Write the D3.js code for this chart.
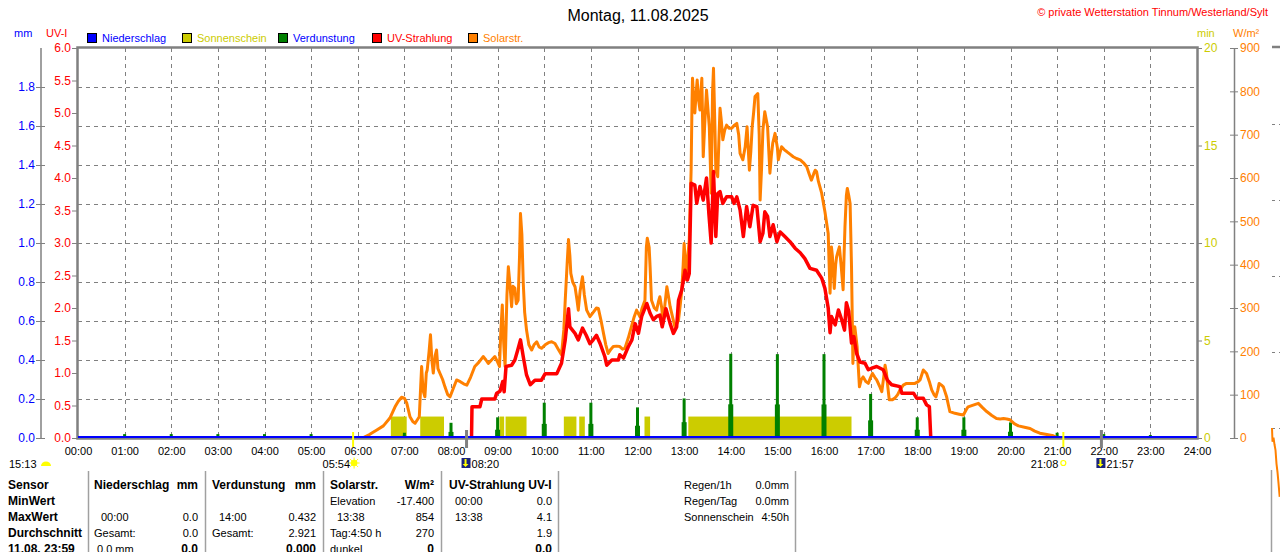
<!DOCTYPE html>
<html><head><meta charset="utf-8">
<script src="https://cdn.jsdelivr.net/npm/d3@7/dist/d3.min.js"></script>
<style>
html,body{margin:0;padding:0;background:#fff;}
svg{display:block;font-family:"Liberation Sans",Arial,sans-serif;}
</style></head><body>
<svg id="c" width="1280" height="552"></svg>
<script>
// ---------- DATA ----------
const hours = d3.range(0, 25);
const mmTicks = [0,0.2,0.4,0.6,0.8,1.0,1.2,1.4,1.6,1.8];
const uvTicks = [0,0.5,1,1.5,2,2.5,3,3.5,4,4.5,5,5.5,6];
const sunTicks = [0,5,10,15,20];
const wTicks = [0,100,200,300,400,500,600,700,800,900];

const solarTime = [6.10,6.25,6.40,6.55,6.69,6.80,6.87,6.94,7.00,7.05,7.12,7.18,7.23,7.32,7.35,7.37,7.40,7.44,7.47,7.49,7.53,7.56,7.59,7.62,7.66,7.69,7.72,7.76,7.82,7.87,7.93,7.98,8.05,8.12,8.20,8.27,8.34,8.42,8.51,8.60,8.69,8.75,8.80,8.87,8.94,9.00,9.04,9.07,9.10,9.13,9.16,9.20,9.23,9.26,9.30,9.33,9.37,9.40,9.44,9.47,9.49,9.52,9.55,9.58,9.62,9.67,9.73,9.78,9.84,9.89,9.94,10.02,10.09,10.16,10.23,10.30,10.37,10.42,10.45,10.49,10.52,10.55,10.57,10.61,10.66,10.70,10.73,10.77,10.82,10.86,10.91,10.98,11.05,11.12,11.16,11.22,11.27,11.32,11.37,11.43,11.48,11.55,11.62,11.68,11.73,11.80,11.87,11.93,11.98,12.05,12.10,12.16,12.19,12.21,12.25,12.27,12.30,12.36,12.41,12.45,12.48,12.52,12.55,12.59,12.63,12.66,12.70,12.75,12.80,12.85,12.88,12.92,12.95,12.98,13.00,13.03,13.05,13.08,13.11,13.15,13.17,13.18,13.20,13.23,13.26,13.28,13.31,13.34,13.36,13.38,13.41,13.44,13.48,13.51,13.54,13.58,13.61,13.63,13.66,13.68,13.72,13.75,13.77,13.80,13.83,13.87,13.91,13.96,14.02,14.08,14.13,14.17,14.20,14.26,14.31,14.35,14.40,14.43,14.46,14.49,14.52,14.58,14.61,14.63,14.66,14.69,14.73,14.79,14.84,14.87,14.90,14.95,15.00,15.02,15.06,15.09,15.15,15.20,15.27,15.34,15.41,15.49,15.56,15.63,15.68,15.73,15.78,15.81,15.84,15.88,15.95,16.02,16.09,16.11,16.13,16.16,16.18,16.22,16.25,16.27,16.30,16.33,16.37,16.41,16.43,16.45,16.48,16.50,16.53,16.56,16.59,16.62,16.64,16.66,16.71,16.76,16.80,16.84,16.90,16.95,17.00,17.04,17.09,17.13,17.19,17.24,17.28,17.31,17.34,17.36,17.40,17.46,17.52,17.58,17.63,17.70,17.77,17.86,17.95,18.02,18.06,18.13,18.20,18.26,18.31,18.36,18.40,18.44,18.47,18.52,18.56,18.63,18.67,18.70,18.81,18.90,18.99,19.05,19.09,19.20,19.31,19.40,19.49,19.60,19.70,19.78,19.85,19.92,19.99,20.08,20.17,20.30,20.42,20.52,20.63,20.78,20.92,21.02];
const solarWm2 = [0,8,18,28,46,72,85,94,92,81,49,38,34,49,120,165,110,95,150,157,200,238,180,150,190,203,160,150,135,118,100,95,115,134,130,125,122,140,165,175,188,180,172,180,188,175,165,250,307,220,165,330,395,360,303,350,346,310,318,420,518,470,357,290,249,215,203,215,222,210,207,215,220,222,218,205,192,250,318,400,458,420,380,360,349,320,295,340,372,330,295,280,290,300,299,270,242,215,195,205,211,212,211,205,207,230,257,280,295,280,300,318,440,461,440,395,318,300,295,315,326,300,265,310,349,330,303,280,257,265,272,310,342,400,449,400,365,420,457,618,780,830,790,750,800,826,780,757,800,830,649,720,803,760,718,565,800,853,720,618,603,700,761,730,688,710,722,715,715,722,726,700,657,642,672,718,618,660,718,750,788,795,700,549,620,711,753,718,611,650,680,703,670,642,660,672,665,661,655,649,645,642,635,626,610,595,610,618,615,592,565,522,472,400,334,441,420,345,400,418,430,441,395,342,420,488,560,576,560,541,395,172,230,257,211,118,135,141,130,126,140,149,140,134,120,107,140,168,150,126,88,88,92,100,111,122,126,126,126,130,134,157,149,130,111,100,95,110,126,122,118,95,75,61,57,55,53,65,72,76,80,70,61,52,45,44,45,44,42,33,28,25,22,16,11,8,5,0];

const uvTime = [8.44,8.45,8.55,8.62,8.66,8.94,8.98,9.05,9.11,9.14,9.18,9.30,9.37,9.43,9.49,9.55,9.62,9.70,9.80,9.94,10.02,10.27,10.37,10.45,10.52,10.55,10.66,10.73,10.82,10.90,10.98,11.05,11.12,11.20,11.30,11.34,11.45,11.59,11.62,11.70,11.80,11.88,11.95,12.02,12.09,12.20,12.27,12.34,12.41,12.48,12.53,12.61,12.70,12.77,12.84,12.88,12.95,13.02,13.07,13.11,13.15,13.23,13.27,13.34,13.41,13.48,13.53,13.58,13.63,13.68,13.72,13.77,13.83,13.91,14.02,14.07,14.13,14.20,14.27,14.34,14.41,14.48,14.56,14.63,14.69,14.73,14.79,14.84,14.91,14.99,15.06,15.16,15.27,15.38,15.49,15.59,15.70,15.84,15.95,16.02,16.09,16.13,16.16,16.24,16.31,16.38,16.44,16.48,16.53,16.59,16.64,16.70,16.77,16.88,16.95,17.04,17.13,17.27,17.36,17.45,17.63,17.67,17.92,17.99,18.13,18.20,18.26,18.29];
const uvIndex = [0,0.48,0.48,0.48,0.6,0.6,0.69,0.72,0.87,0.71,1.10,1.12,1.2,1.35,1.51,1.25,0.97,0.82,0.89,0.89,0.99,0.99,1.15,1.51,1.99,1.71,1.61,1.51,1.69,1.58,1.45,1.51,1.58,1.45,1.25,1.12,1.2,1.2,1.28,1.23,1.40,1.51,1.76,1.61,1.87,2.07,1.92,1.82,1.87,1.89,1.71,1.99,1.76,1.61,1.71,2.12,2.28,2.58,2.43,2.53,3.92,3.89,3.61,3.87,3.66,4.0,3.46,3.0,4.10,3.10,3.76,3.79,3.61,3.71,3.71,3.61,3.71,3.51,3.10,3.56,3.25,3.58,3.56,3.02,3.15,3.48,3.41,3.10,3.28,3.02,3.17,3.10,3.02,2.92,2.85,2.76,2.61,2.58,2.46,2.30,2.0,1.62,1.87,1.74,1.97,1.82,1.66,2.08,1.95,1.46,1.56,1.30,1.17,1.15,1.05,1.08,1.10,1.05,0.89,0.82,0.79,0.69,0.69,0.61,0.61,0.51,0.48,0];

const sunStart = [6.71,7.34,9.04,9.17,10.42,10.75,12.15,13.09];
const sunEnd   = [7.05,7.85,9.14,9.62,10.69,10.87,12.27,16.59];
const sunMin   = [1.1,1.1,1.1,1.1,1.1,1.1,1.1,1.1];

const evapHour = [1,2,3,4,5,7,8,9,10,11,12,13,14,15,16,17,18,19,20,21,22,23];
const evapMm   = [0.02,0.02,0.02,0.02,0.02,0.027,0.078,0.106,0.181,0.181,0.157,0.203,0.432,0.43,0.43,0.226,0.106,0.106,0.08,0.027,0.02,0.015];

const legendNames  = ["Niederschlag","Sonnenschein","Verdunstung","UV-Strahlung","Solarstr."];
const legendColors = ["#0000FF","#CCCC00","#008000","#FF0000","#FF8000"];
const legendText   = ["#0000FF","#CCCC00","#0000FF","#FF0000","#FF8000"];

const astroTime  = [5.9, 21.1333, 8.3333, 21.95];
const astroLabel = ["05:54","21:08","08:20","21:57"];
const astroType  = ["sunrise","sunset","moonrise","moonset"];

const nextPanelT = [0,0.5,1.5,2.5,3.5,4.5,5.5,6.5,7.7];
const nextPanelW = [900,800,830,780,740,640,580,500,400];

// ---------- SETUP ----------
const svg = d3.select("#c");
const L = 78, R = 1197, T = 48, B = 438;
const x = d3.scaleLinear().domain([0,24]).range([L,R]);
const yUV = d3.scaleLinear().domain([0,6]).range([B,T]);
const yMM = d3.scaleLinear().domain([0,2]).range([B,T]);
const ySun = d3.scaleLinear().domain([0,20]).range([B,T]);
const yW = d3.scaleLinear().domain([0,900]).range([B,T]);
const GRAY = "#808080";
const FS = "11px";

svg.append("rect").attr("width",1280).attr("height",552).attr("fill","#fff");

// Title
svg.append("text").attr("x",638).attr("y",21).attr("text-anchor","middle")
  .style("font-size","16px").attr("fill","#000").text("Montag, 11.08.2025");
svg.append("text").attr("x",1268).attr("y",16).attr("text-anchor","end")
  .style("font-size",FS).attr("fill","#FF0000").text("© private Wetterstation Tinnum/Westerland/Sylt");

// axis unit labels
svg.append("text").attr("x",14).attr("y",37).style("font-size",FS).attr("fill","#0000FF").text("mm");
svg.append("text").attr("x",46).attr("y",37).style("font-size",FS).attr("fill","#FF0000").text("UV-I");
svg.append("text").attr("x",1197).attr("y",37).style("font-size",FS).attr("fill","#CCCC00").text("min");
svg.append("text").attr("x",1233).attr("y",37).style("font-size",FS).attr("fill","#FF8000").text("W/m²");

// Legend
const lg = svg.append("g");
const legX = [87,182,278,372,468];
legendNames.forEach((n,i)=>{
  lg.append("rect").attr("x",legX[i]+0.5).attr("y",33.5).attr("width",9).attr("height",9)
    .attr("fill",legendColors[i]).attr("stroke","#000").attr("stroke-width",1);
  lg.append("text").attr("x",legX[i]+15).attr("y",42).style("font-size",FS).attr("fill",legendText[i]).text(n);
});

// Grid
const grid = svg.append("g").attr("stroke",GRAY).attr("stroke-width",1).attr("stroke-dasharray","4,4");
hours.filter(h=>h>0&&h<24).forEach(h=>{
  grid.append("line").attr("x1",Math.round(x(h))+0.5).attr("x2",Math.round(x(h))+0.5).attr("y1",T).attr("y2",B);
});
mmTicks.filter(v=>v>0).forEach(v=>{
  grid.append("line").attr("x1",L).attr("x2",R).attr("y1",Math.round(yMM(v))+0.5).attr("y2",Math.round(yMM(v))+0.5);
});

// Sunshine bars
const sunG = svg.append("g").attr("fill","#CCCC00");
sunStart.forEach((s,i)=>{
  sunG.append("rect").attr("x",x(s)).attr("width",x(sunEnd[i])-x(s))
    .attr("y",ySun(sunMin[i])).attr("height",ySun(0)-ySun(sunMin[i]));
});

// Evaporation spikes
const evG = svg.append("g").attr("fill","#008000");
evapHour.forEach((h,i)=>{
  const v = evapMm[i], cx = x(h);
  evG.append("rect").attr("x",cx-1.5).attr("width",3).attr("y",yMM(v)).attr("height",yMM(0)-yMM(v));
  evG.append("rect").attr("x",cx-2.5).attr("width",5).attr("y",yMM(v*0.4)).attr("height",yMM(0)-yMM(v*0.4));
});

// Solar line
const solarData = solarTime.map((t,i)=>[t,solarWm2[i]]);
svg.append("path").datum(solarData)
  .attr("d",d3.line().x(d=>x(d[0])).y(d=>yW(d[1])))
  .attr("fill","none").attr("stroke","#FF8000").attr("stroke-width",3).attr("stroke-linejoin","round");

// UV line
const uvData = uvTime.map((t,i)=>[t,uvIndex[i]]);
svg.append("path").datum(uvData)
  .attr("d",d3.line().x(d=>x(d[0])).y(d=>yUV(d[1])))
  .attr("fill","none").attr("stroke","#FF0000").attr("stroke-width",3.5).attr("stroke-linejoin","round");

// Frame
svg.append("rect").attr("x",L-0.5).attr("y",T-0.5).attr("width",R-L+1).attr("height",B-T+1)
  .attr("fill","none").attr("stroke",GRAY).attr("stroke-width",2.5);
// blue precipitation baseline
svg.append("line").attr("x1",L).attr("x2",R).attr("y1",B-1).attr("y2",B-1).attr("stroke","#0000FF").attr("stroke-width",2);

// Axes
function styleAxis(g,color,size){
  g.selectAll("path.domain").remove();
  g.selectAll("line").attr("stroke",GRAY);
  g.selectAll("text").attr("fill",color).style("font-size",size||"12px").attr("font-family","Liberation Sans, Arial, sans-serif");
}
// mm axis
svg.append("line").attr("x1",41).attr("x2",41).attr("y1",T).attr("y2",B).attr("stroke",GRAY).attr("stroke-width",1.5);
const gmm = svg.append("g").attr("transform","translate(45,0)")
  .call(d3.axisLeft(yMM).tickValues(mmTicks).tickSize(9).tickPadding(1).tickFormat(d3.format(".1f")));
styleAxis(gmm,"#0000FF");
// UV axis
const guv = svg.append("g").attr("transform","translate(77,0)")
  .call(d3.axisLeft(yUV).tickValues(uvTicks).tickSize(5).tickPadding(1).tickFormat(d3.format(".1f")));
styleAxis(guv,"#FF0000");
// min axis
const gsun = svg.append("g").attr("transform","translate(1197,0)")
  .call(d3.axisRight(ySun).tickValues(sunTicks).tickSize(5).tickPadding(2).tickFormat(d3.format("d")));
styleAxis(gsun,"#CCCC00");
// W axis
svg.append("line").attr("x1",1234.5).attr("x2",1234.5).attr("y1",T).attr("y2",B).attr("stroke",GRAY).attr("stroke-width",1.5);
const gw = svg.append("g").attr("transform","translate(1230,0)")
  .call(d3.axisRight(yW).tickValues(wTicks).tickSize(8).tickPadding(2).tickFormat(d3.format("d")));
styleAxis(gw,"#FF8000");

// x axis labels
const gx = svg.append("g").attr("transform",`translate(0,${B})`)
  .call(d3.axisBottom(x).tickValues(hours).tickSize(0).tickPadding(9)
    .tickFormat(h=>d3.format("02d")(h)+":00"));
styleAxis(gx,"#000",FS);

// astro markers
astroTime.forEach((t,i)=>{
  const cx = x(t), type = astroType[i];
  if(type==="sunrise"||type==="sunset"){
    svg.append("line").attr("x1",cx).attr("x2",cx).attr("y1",432).attr("y2",447).attr("stroke","#FFFF00").attr("stroke-width",2);
  } else {
    svg.append("line").attr("x1",cx).attr("x2",cx).attr("y1",430).attr("y2",448).attr("stroke",GRAY).attr("stroke-width",3);
  }
  if(type==="sunrise"){
    svg.append("text").attr("x",cx-3).attr("y",468).attr("text-anchor","end").style("font-size",FS).text(astroLabel[i]);
    const sg = svg.append("g").attr("transform",`translate(${cx+1},463)`);
    d3.range(8).forEach(k=>{const a=k*Math.PI/4;
      sg.append("line").attr("x1",Math.cos(a)*3).attr("y1",Math.sin(a)*3).attr("x2",Math.cos(a)*5.5).attr("y2",Math.sin(a)*5.5)
        .attr("stroke","#FFFF00").attr("stroke-width",1);});
    sg.append("circle").attr("r",3.3).attr("fill","#FFFF00");
  } else if(type==="sunset"){
    svg.append("text").attr("x",cx-5).attr("y",468).attr("text-anchor","end").style("font-size",FS).text(astroLabel[i]);
    svg.append("circle").attr("cx",cx).attr("cy",463).attr("r",2.5).attr("fill","none").attr("stroke","#FFFF00").attr("stroke-width",1.2);
  } else {
    svg.append("rect").attr("x",cx-5).attr("y",458).attr("width",9).attr("height",10).attr("fill","#1a237e");
    svg.append("path").attr("d",`M${cx-2},459 L${cx-2},464 L${cx-4},464 L${cx-1},467 L${cx+2},464 L${cx},464 L${cx},459 Z`).attr("fill","#FFFF00");
    svg.append("text").attr("x",cx+5).attr("y",468).style("font-size",FS).text(astroLabel[i]);
  }
});
svg.append("text").attr("x",9).attr("y",468).style("font-size",FS).text("15:13");
svg.append("path").attr("d","M41,466 A5,4.5 0 0 1 51,466 Z").attr("fill","#FFFF00");

// ---------- TABLE ----------
const tb = svg.append("g");
[88.5,205.5,323.5,441.5,558.5,795.5].forEach(sx=>{
  tb.append("line").attr("x1",sx).attr("x2",sx).attr("y1",471).attr("y2",552).attr("stroke","#A0A0A0").attr("stroke-width",1.5);
});
const rowY = [489,505,521,537,553];
function tx(xp,row,str,opt={}){
  tb.append("text").attr("x",xp).attr("y",rowY[row]).attr("text-anchor",opt.end?"end":"start")
    .style("font-size",opt.bold?"12px":FS)
    .attr("font-weight",opt.bold?"bold":"normal").attr("fill","#000").text(str);
}
["Sensor","MinWert","MaxWert","Durchschnitt","11.08. 23:59"].forEach((s,i)=>tx(8,i,s,{bold:true}));
tx(94,0,"Niederschlag",{bold:true}); tx(198,0,"mm",{bold:true,end:true});
tx(212,0,"Verdunstung",{bold:true}); tx(316,0,"mm",{bold:true,end:true});
tx(330,0,"Solarstr.",{bold:true}); tx(434,0,"W/m²",{bold:true,end:true});
tx(449,0,"UV-Strahlung UV-I",{bold:true});
tx(330,1,"Elevation"); tx(434,1,"-17.400",{end:true}); tx(455,1,"00:00"); tx(552,1,"0.0",{end:true});
tx(101,2,"00:00"); tx(198,2,"0.0",{end:true}); tx(219,2,"14:00"); tx(316,2,"0.432",{end:true});
tx(337,2,"13:38"); tx(434,2,"854",{end:true}); tx(455,2,"13:38"); tx(552,2,"4.1",{end:true});
tx(94,3,"Gesamt:"); tx(198,3,"0.0",{end:true}); tx(212,3,"Gesamt:"); tx(316,3,"2.921",{end:true});
tx(330,3,"Tag:4:50 h"); tx(434,3,"270",{end:true}); tx(552,3,"1.9",{end:true});
tx(97,4,"0.0 mm"); tx(198,4,"0.0",{bold:true,end:true}); tx(316,4,"0.000",{bold:true,end:true});
tx(330,4,"dunkel"); tx(434,4,"0",{bold:true,end:true}); tx(552,4,"0.0",{bold:true,end:true});
tx(684,0,"Regen/1h"); tx(789,0,"0.0mm",{end:true});
tx(684,1,"Regen/Tag"); tx(789,1,"0.0mm",{end:true});
tx(684,2,"Sonnenschein"); tx(789,2,"4:50h",{end:true});

// ---------- next panel fragment (cut off at right edge) ----------
const nx = d3.scaleLinear().domain([0,8]).range([1272,1280]);
const ny = d3.scaleLinear().domain([0,900]).range([552,428]);
svg.append("line").attr("x1",1272).attr("x2",1280).attr("y1",47).attr("y2",47).attr("stroke",GRAY).attr("stroke-width",2.5);
[124,200,276,352,428].forEach(gy=>{
  svg.append("line").attr("x1",1272).attr("x2",1280).attr("y1",gy+0.5).attr("y2",gy+0.5)
    .attr("stroke",GRAY).attr("stroke-dasharray","3,4");
});
svg.append("line").attr("x1",1271.5).attr("x2",1271.5).attr("y1",470).attr("y2",552).attr("stroke","#A0A0A0").attr("stroke-width",1.5);
svg.append("path").datum(nextPanelT.map((t,i)=>[t,nextPanelW[i]]))
  .attr("d",d3.line().x(d=>nx(d[0])).y(d=>ny(d[1])))
  .attr("fill","none").attr("stroke","#FF8000").attr("stroke-width",2);
</script>
</body></html>
